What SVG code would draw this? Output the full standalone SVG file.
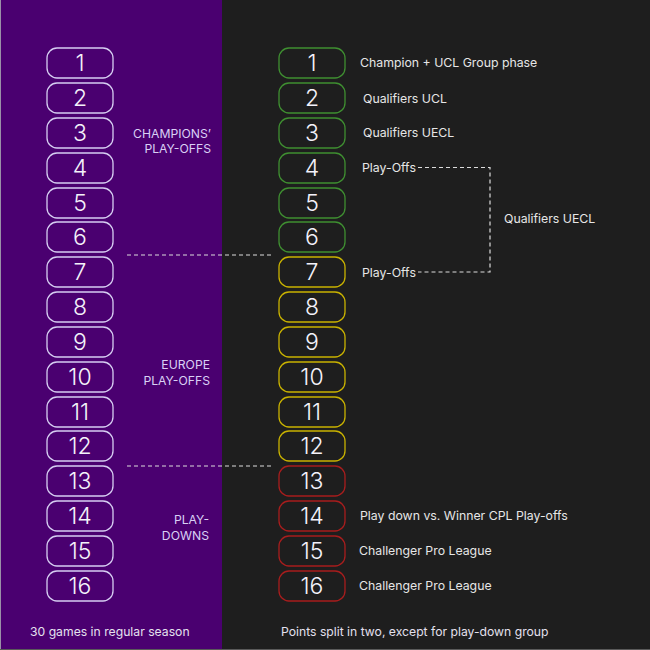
<svg xmlns="http://www.w3.org/2000/svg" width="650" height="650" viewBox="0 0 650 650">
<style>
.box{fill:none;stroke-width:1.3}
.lb{stroke:#d6cdf2}
.g{stroke:#3f8f31}
.y{stroke:#c9b200}
.r{stroke:#a81d1d}
.num{font-family:Inter,"Liberation Sans",sans-serif;font-weight:300;font-size:23px;fill:#f4f2fa;text-anchor:middle}
.lab{font-family:Inter,"Liberation Sans",sans-serif;font-size:12.3px;fill:#e6e6e6}
.grp{font-family:Inter,"Liberation Sans",sans-serif;font-size:12.2px;fill:#d9d0f5;text-anchor:end}
.foot{font-family:Inter,"Liberation Sans",sans-serif;font-size:12.2px;fill:#e4e0ee}
.dash{fill:none;stroke:#dcdcdc;stroke-width:1.2;stroke-dasharray:4 3}
</style>
<rect x="0" y="0" width="650" height="650" fill="#1e1e1e"/>
<rect x="0" y="0" width="222" height="650" fill="#4a0070"/>
<line x1="0.5" y1="0" x2="0.5" y2="650" stroke="#9a90a8" stroke-width="1"/>
<line x1="0" y1="649.5" x2="650" y2="649.5" stroke="#5a5a5a" stroke-width="1"/>

<g id="connectors">
<line class="dash" x1="127" y1="255" x2="272" y2="255"/>
<line class="dash" x1="127" y1="466" x2="272" y2="466"/>
<polyline class="dash" points="418,167.5 490,167.5 490,272 418,272"/>
</g>

<g id="left-nodes">
<g id="L1"><rect class="box lb" x="47" y="48" width="66" height="30" rx="10"/><text class="num" x="80" y="71">1</text></g>
<g id="L2"><rect class="box lb" x="47" y="83" width="66" height="30" rx="10"/><text class="num" x="80" y="106">2</text></g>
<g id="L3"><rect class="box lb" x="47" y="118" width="66" height="30" rx="10"/><text class="num" x="80" y="141">3</text></g>
<g id="L4"><rect class="box lb" x="47" y="153" width="66" height="30" rx="10"/><text class="num" x="80" y="176">4</text></g>
<g id="L5"><rect class="box lb" x="47" y="188" width="66" height="30" rx="10"/><text class="num" x="80" y="211">5</text></g>
<g id="L6"><rect class="box lb" x="47" y="222" width="66" height="30" rx="10"/><text class="num" x="80" y="245">6</text></g>
<g id="L7"><rect class="box lb" x="47" y="257" width="66" height="30" rx="10"/><text class="num" x="80" y="280">7</text></g>
<g id="L8"><rect class="box lb" x="47" y="292" width="66" height="30" rx="10"/><text class="num" x="80" y="315">8</text></g>
<g id="L9"><rect class="box lb" x="47" y="327" width="66" height="30" rx="10"/><text class="num" x="80" y="350">9</text></g>
<g id="L10"><rect class="box lb" x="47" y="362" width="66" height="30" rx="10"/><text class="num" x="80" y="385">10</text></g>
<g id="L11"><rect class="box lb" x="47" y="397" width="66" height="30" rx="10"/><text class="num" x="80" y="420">11</text></g>
<g id="L12"><rect class="box lb" x="47" y="431" width="66" height="30" rx="10"/><text class="num" x="80" y="454">12</text></g>
<g id="L13"><rect class="box lb" x="47" y="466" width="66" height="30" rx="10"/><text class="num" x="80" y="489">13</text></g>
<g id="L14"><rect class="box lb" x="47" y="501" width="66" height="30" rx="10"/><text class="num" x="80" y="524">14</text></g>
<g id="L15"><rect class="box lb" x="47" y="536" width="66" height="30" rx="10"/><text class="num" x="80" y="559">15</text></g>
<g id="L16"><rect class="box lb" x="47" y="571" width="66" height="30" rx="10"/><text class="num" x="80" y="594">16</text></g>
</g>

<g id="group-labels">
<text class="grp" x="211" y="137.5">CHAMPIONS’</text>
<text class="grp" x="211" y="153">PLAY-OFFS</text>
<text class="grp" x="210" y="369">EUROPE</text>
<text class="grp" x="210" y="384.5">PLAY-OFFS</text>
<text class="grp" x="209" y="524">PLAY-</text>
<text class="grp" x="209" y="539.5">DOWNS</text>
</g>

<g id="right-nodes">
<g id="R1"><rect class="box g" x="279" y="48" width="66" height="30" rx="10"/><text class="num" x="312" y="71">1</text></g>
<g id="R2"><rect class="box g" x="279" y="83" width="66" height="30" rx="10"/><text class="num" x="312" y="106">2</text></g>
<g id="R3"><rect class="box g" x="279" y="118" width="66" height="30" rx="10"/><text class="num" x="312" y="141">3</text></g>
<g id="R4"><rect class="box g" x="279" y="153" width="66" height="30" rx="10"/><text class="num" x="312" y="176">4</text></g>
<g id="R5"><rect class="box g" x="279" y="188" width="66" height="30" rx="10"/><text class="num" x="312" y="211">5</text></g>
<g id="R6"><rect class="box g" x="279" y="222" width="66" height="30" rx="10"/><text class="num" x="312" y="245">6</text></g>
<g id="R7"><rect class="box y" x="279" y="257" width="66" height="30" rx="10"/><text class="num" x="312" y="280">7</text></g>
<g id="R8"><rect class="box y" x="279" y="292" width="66" height="30" rx="10"/><text class="num" x="312" y="315">8</text></g>
<g id="R9"><rect class="box y" x="279" y="327" width="66" height="30" rx="10"/><text class="num" x="312" y="350">9</text></g>
<g id="R10"><rect class="box y" x="279" y="362" width="66" height="30" rx="10"/><text class="num" x="312" y="385">10</text></g>
<g id="R11"><rect class="box y" x="279" y="397" width="66" height="30" rx="10"/><text class="num" x="312" y="420">11</text></g>
<g id="R12"><rect class="box y" x="279" y="431" width="66" height="30" rx="10"/><text class="num" x="312" y="454">12</text></g>
<g id="R13"><rect class="box r" x="279" y="466" width="66" height="30" rx="10"/><text class="num" x="312" y="489">13</text></g>
<g id="R14"><rect class="box r" x="279" y="501" width="66" height="30" rx="10"/><text class="num" x="312" y="524">14</text></g>
<g id="R15"><rect class="box r" x="279" y="536" width="66" height="30" rx="10"/><text class="num" x="312" y="559">15</text></g>
<g id="R16"><rect class="box r" x="279" y="571" width="66" height="30" rx="10"/><text class="num" x="312" y="594">16</text></g>
</g>

<g id="outcome-labels">
<text class="lab" x="360" y="67">Champion + UCL Group phase</text>
<text class="lab" x="363" y="102.5">Qualifiers UCL</text>
<text class="lab" x="363" y="137">Qualifiers UECL</text>
<text class="lab" x="362" y="172">Play-Offs</text>
<text class="lab" x="362" y="276.5">Play-Offs</text>
<text class="lab" x="504" y="222.5">Qualifiers UECL</text>
<text class="lab" x="360" y="520">Play down vs. Winner CPL Play-offs</text>
<text class="lab" x="359" y="555">Challenger Pro League</text>
<text class="lab" x="359" y="590">Challenger Pro League</text>
</g>

<g id="footnotes">
<text class="foot" x="30" y="635.5">30 games in regular season</text>
<text class="foot" x="281" y="636">Points split in two, except for play-down group</text>
</g>
</svg>
